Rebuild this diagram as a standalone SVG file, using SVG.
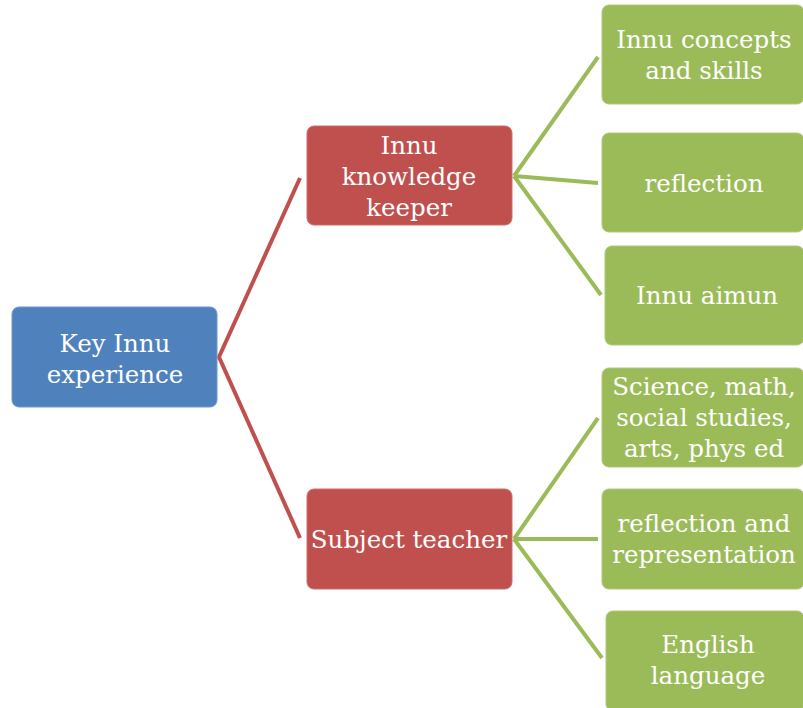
<svg xmlns="http://www.w3.org/2000/svg" width="803" height="708" viewBox="0 0 803 708">
  <style>
    .blue { fill: #4F81BD; stroke: #6F97CB; stroke-width: 1; }
    .red { fill: #C0504D; stroke: #CC6E6B; stroke-width: 1; }
    .green { fill: #9BBB59; stroke: #AFC97A; stroke-width: 1; }
    .lbl { fill: #FFFFFF; font-family: "DejaVu Serif", "Liberation Serif", serif; font-size: 24.5px; text-anchor: middle; }
    .red-line { stroke: #C0504D; stroke-width: 4; fill: none; stroke-linejoin: miter; }
    .green-line { stroke: #9BBB59; stroke-width: 4; fill: none; }
  </style>

  <!-- connectors -->
  <g id="connectors">
    <polyline class="red-line" points="300,178 219,357 300,538"/>
    <line class="green-line" x1="514" y1="176" x2="598" y2="57"/>
    <line class="green-line" x1="514" y1="176" x2="598" y2="183"/>
    <line class="green-line" x1="514" y1="176" x2="601" y2="295"/>
    <line class="green-line" x1="514" y1="539" x2="598" y2="418"/>
    <line class="green-line" x1="514" y1="539" x2="598" y2="539"/>
    <line class="green-line" x1="514" y1="539" x2="602" y2="658"/>
  </g>

  <!-- root -->
  <g id="key-innu-experience">
    <rect class="blue" x="12" y="307" width="205" height="100" rx="7"/>
    <text class="lbl" x="115" y="352">Key Innu</text>
    <text class="lbl" x="115" y="383">experience</text>
  </g>

  <!-- second level -->
  <g id="innu-knowledge-keeper">
    <rect class="red" x="307" y="126" width="205" height="99" rx="7"/>
    <text class="lbl" x="409" y="154">Innu</text>
    <text class="lbl" x="409" y="185">knowledge</text>
    <text class="lbl" x="409" y="216">keeper</text>
  </g>
  <g id="subject-teacher">
    <rect class="red" x="307" y="489" width="205" height="100" rx="7"/>
    <text class="lbl" x="409" y="548">Subject teacher</text>
  </g>

  <!-- third level -->
  <g id="innu-concepts">
    <rect class="green" x="602" y="5" width="202" height="99" rx="7"/>
    <text class="lbl" x="704" y="48">Innu concepts</text>
    <text class="lbl" x="704" y="79">and skills</text>
  </g>
  <g id="reflection">
    <rect class="green" x="602" y="133" width="202" height="99" rx="7"/>
    <text class="lbl" x="704" y="192">reflection</text>
  </g>
  <g id="innu-aimun">
    <rect class="green" x="605" y="246" width="199" height="99" rx="7"/>
    <text class="lbl" x="707" y="304">Innu aimun</text>
  </g>
  <g id="science-math">
    <rect class="green" x="602" y="368" width="202" height="99" rx="7"/>
    <text class="lbl" x="704" y="395">Science, math,</text>
    <text class="lbl" x="704" y="426">social studies,</text>
    <text class="lbl" x="704" y="457">arts, phys ed</text>
  </g>
  <g id="reflection-representation">
    <rect class="green" x="602" y="489" width="202" height="100" rx="7"/>
    <text class="lbl" x="704" y="532">reflection and</text>
    <text class="lbl" x="704" y="563">representation</text>
  </g>
  <g id="english-language">
    <rect class="green" x="606" y="611" width="198" height="100" rx="7"/>
    <text class="lbl" x="708" y="653">English</text>
    <text class="lbl" x="708" y="684">language</text>
  </g>
</svg>
